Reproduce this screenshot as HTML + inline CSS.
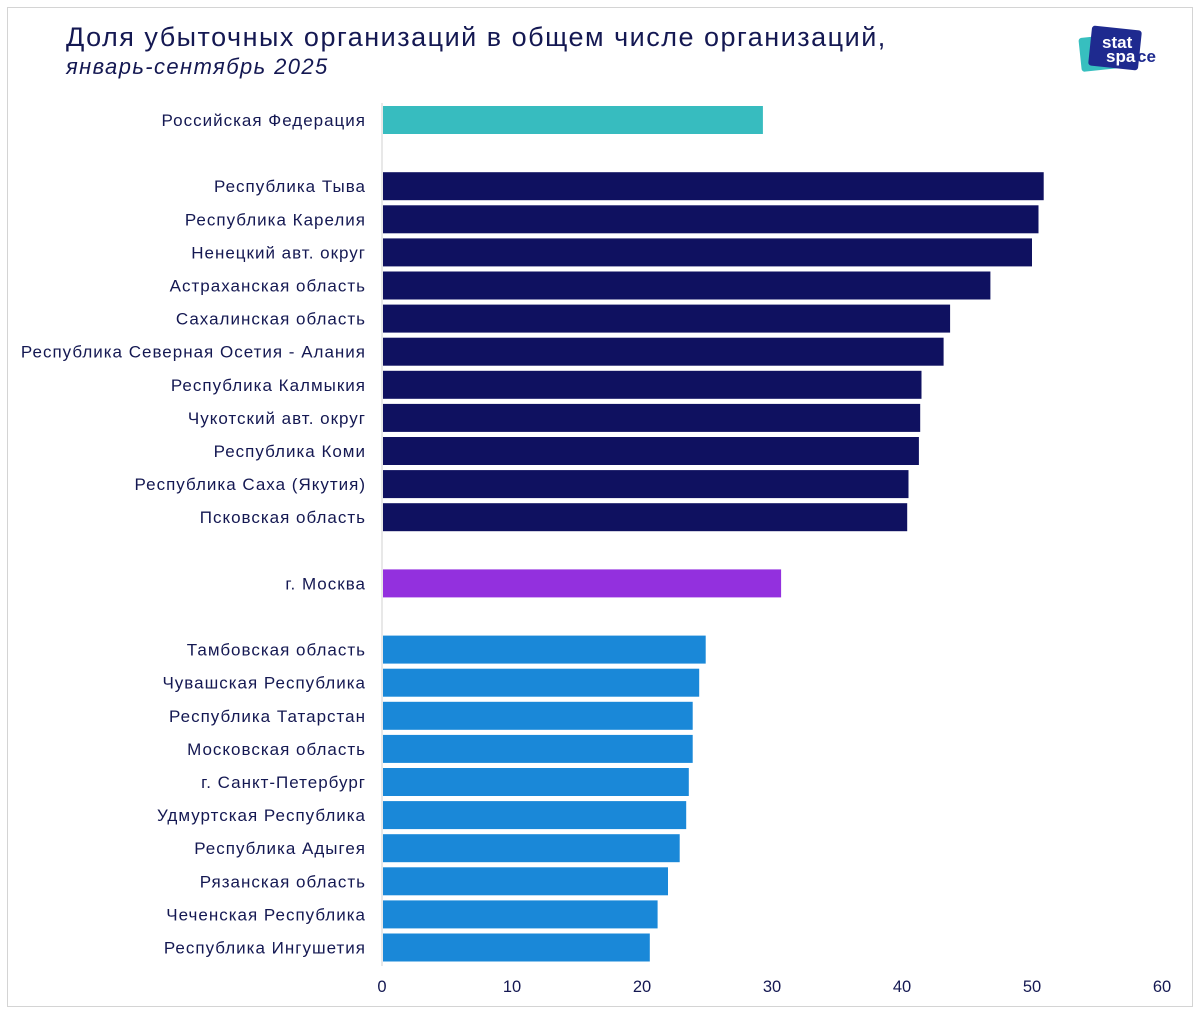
<!DOCTYPE html>
<html><head><meta charset="utf-8"><style>
body{margin:0;background:#fff;font-family:"Liberation Sans",sans-serif;}
#wrap{position:relative;width:1200px;height:1014px;}
svg text{font-family:"Liberation Sans","DejaVu Sans",sans-serif;}
</style></head><body>
<div id="wrap">
<svg id="chart" width="1200" height="1014">
<rect x="7.5" y="7.5" width="1185" height="999" fill="#fff" stroke="#d4d4d4"/>
<text x="66" y="46" font-size="27" letter-spacing="1.5" fill="#141852">Доля убыточных организаций в общем числе организаций,</text>
<text x="66" y="74" font-size="22" letter-spacing="1.4" font-style="italic" fill="#141852">январь-сентябрь 2025</text>
<g>
<rect x="1080" y="36" width="40" height="34" rx="3" fill="#37bfbf" transform="rotate(-6 1100 53)"/>
<rect x="1090" y="28" width="50" height="40" rx="3" fill="#1e2a8f" transform="rotate(6 1115 48)"/>
<text x="1102" y="48" font-size="17" font-weight="bold" fill="#fff">stat</text>
<text x="1106" y="62" font-size="17" font-weight="bold" fill="#fff">spa</text>
<text x="1137" y="62" font-size="17" font-weight="bold" fill="#1e2a8f">ce</text>
</g>
<line x1="382" y1="103" x2="382" y2="966" stroke="#d0d0d0"/>
<g id="bars"></g>
</svg>
</div>
<script>
const categories=["Российская Федерация","","Республика Тыва","Республика Карелия","Ненецкий авт. округ","Астраханская область","Сахалинская область","Республика Северная Осетия - Алания","Республика Калмыкия","Чукотский авт. округ","Республика Коми","Республика Саха (Якутия)","Псковская область","","г. Москва","","Тамбовская область","Чувашская Республика","Республика Татарстан","Московская область","г. Санкт-Петербург","Удмуртская Республика","Республика Адыгея","Рязанская область","Чеченская Республика","Республика Ингушетия"];
const values=[29.3,null,50.9,50.5,50.0,46.8,43.7,43.2,41.5,41.4,41.3,40.5,40.4,null,30.7,null,24.9,24.4,23.9,23.9,23.6,23.4,22.9,22.0,21.2,20.6];
const groups=["rf","","top","top","top","top","top","top","top","top","top","top","top","","msk","","bot","bot","bot","bot","bot","bot","bot","bot","bot","bot"];
const ticks=[0,10,20,30,40,50,60];
const colors={rf:"#37bcbf",top:"#0f1160",msk:"#9330de",bot:"#1a88d8"};
const x=v=>382+v*13;
const y=i=>120+i*33.1;
const NS="http://www.w3.org/2000/svg";
const g=document.getElementById("bars");
categories.forEach((c,i)=>{
  if(values[i]==null)return;
  const r=document.createElementNS(NS,"rect");
  r.setAttribute("x",x(0)+1);r.setAttribute("y",y(i)-14);
  r.setAttribute("width",x(values[i])-x(0)-1);r.setAttribute("height",28);
  r.setAttribute("fill",colors[groups[i]]);
  
  
  g.appendChild(r);
  const t=document.createElementNS(NS,"text");
  t.setAttribute("x",366);t.setAttribute("y",y(i)+6);
  t.setAttribute("text-anchor","end");t.setAttribute("font-size","17");
  t.setAttribute("letter-spacing","1");
  t.setAttribute("fill","#141852");t.textContent=c;
  
  
  g.appendChild(t);
});
ticks.forEach(v=>{
  const t=document.createElementNS(NS,"text");
  t.setAttribute("x",x(v));t.setAttribute("y",992);
  t.setAttribute("text-anchor","middle");t.setAttribute("font-size","16.5");
  t.setAttribute("fill","#141852");t.textContent=v;
  
  
  g.appendChild(t);
});
</script>
</body></html>
